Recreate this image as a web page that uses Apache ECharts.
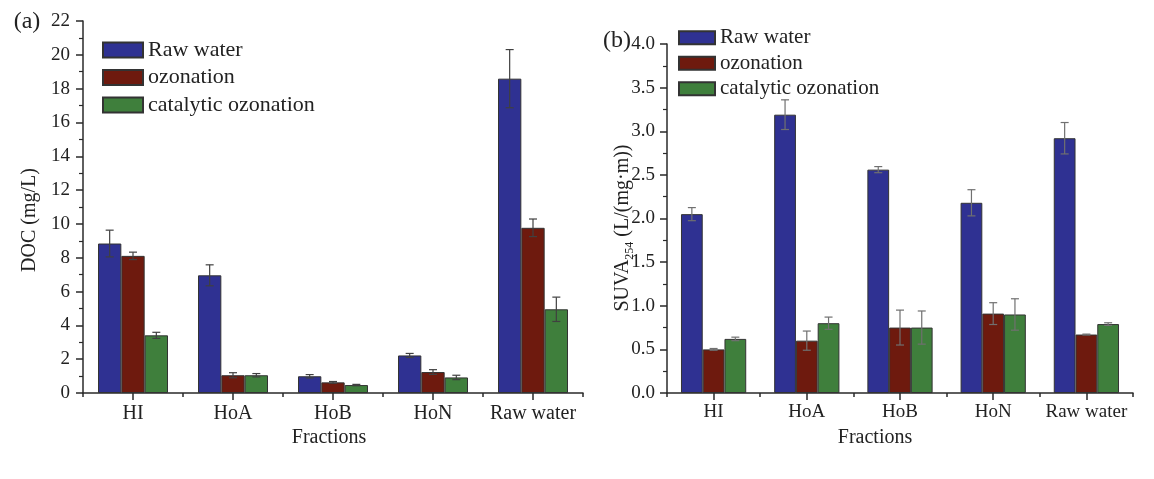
<!DOCTYPE html>
<html>
<head>
<meta charset="utf-8">
<script src="https://cdn.jsdelivr.net/npm/echarts@6/dist/echarts.min.js"></script>
<style>
html,body{margin:0;padding:0;background:#fff;}
#chart{width:1154px;height:479px;}
</style>
</head>
<body>
<div id="chart"></div>
<script>
// ---- data ----
const categories = ['HI', 'HoA', 'HoB', 'HoN', 'Raw water'];
const seriesNames = ['Raw water', 'ozonation', 'catalytic ozonation'];

// (a) DOC (mg/L)
const docRaw    = [8.84, 6.96, 0.99, 2.22, 18.59];
const docRawErr = [0.79, 0.62, 0.10, 0.12, 1.72];
const docOzo    = [8.11, 1.05, 0.63, 1.24, 9.77];
const docOzoErr = [0.22, 0.15, 0.05, 0.14, 0.52];
const docCat    = [3.41, 1.05, 0.47, 0.92, 4.95];
const docCatErr = [0.18, 0.10, 0.04, 0.13, 0.72];

// (b) SUVA254 (L/(mg·m))
const suvaRaw    = [2.05, 3.19, 2.56, 2.18, 2.92];
const suvaRawErr = [0.075, 0.17, 0.035, 0.15, 0.18];
const suvaOzo    = [0.50, 0.60, 0.75, 0.91, 0.67];
const suvaOzoErr = [0.01, 0.11, 0.20, 0.125, 0.005];
const suvaCat    = [0.62, 0.80, 0.75, 0.90, 0.79];
const suvaCatErr = [0.02, 0.07, 0.19, 0.18, 0.015];

// ---- style ----
const FONT = 'Liberation Serif';
const colors = ['#2f3192', '#6e1a0e', '#3f7f3c'];
const axisColor = '#2a2a2a';
const catGap = 0.30;

const chart = echarts.init(document.getElementById('chart'), null, {renderer: 'canvas'});

function errRender(idx, stroke, capHalf) {
  return function (params, api) {
    const c = api.value(0), v = api.value(1), e = api.value(2);
    const band = api.size([1, 0])[0];
    const bw = band * (1 - catGap) / 3;
    const top = api.coord([c, v + e]);
    const bot = api.coord([c, v - e]);
    const x = top[0] + (idx - 1) * bw;
    const st = {stroke: stroke, lineWidth: 1.2};
    return {
      type: 'group',
      children: [
        {type: 'line', shape: {x1: x, y1: top[1], x2: x, y2: bot[1]}, style: st},
        {type: 'line', shape: {x1: x - capHalf, y1: top[1], x2: x + capHalf, y2: top[1]}, style: st},
        {type: 'line', shape: {x1: x - capHalf, y1: bot[1], x2: x + capHalf, y2: bot[1]}, style: st}
      ]
    };
  };
}

function barSeries(name, i, data, axisIdx) {
  return {
    name: name, type: 'bar', xAxisIndex: axisIdx, yAxisIndex: axisIdx / 2,
    data: data, barGap: '0%', barCategoryGap: (catGap * 100) + '%',
    itemStyle: {color: colors[i], borderColor: '#333', borderWidth: 1},
    emphasis: {disabled: true}, z: 2, animation: false
  };
}
function errSeries(i, vals, errs, axisIdx, stroke) {
  return {
    type: 'custom', xAxisIndex: axisIdx, yAxisIndex: axisIdx / 2,
    renderItem: errRender(i, stroke, 4),
    data: vals.map((v, k) => [k, v, errs[k]]),
    encode: {x: 0, y: 1}, z: 5, silent: true, animation: false
  };
}

function xAxes(gridIndex, fontSize, margin) {
  return [
    {
      type: 'category', gridIndex: gridIndex, data: categories, position: 'bottom',
      axisLine: {show: true, lineStyle: {color: axisColor, width: 1.5}},
      axisTick: {show: true, alignWithLabel: true, interval: 0, length: 7, lineStyle: {color: axisColor, width: 1.5}},
      axisLabel: {interval: 0, fontFamily: FONT, fontSize: fontSize, color: '#222', margin: margin},
      splitLine: {show: false}
    },
    {
      type: 'category', gridIndex: gridIndex, data: categories, position: 'bottom', offset: 0,
      axisLine: {show: false},
      axisTick: {show: true, alignWithLabel: false, interval: 0, length: 4, lineStyle: {color: axisColor, width: 1.5}},
      axisLabel: {show: false},
      splitLine: {show: false}
    }
  ];
}

function yAxis(gridIndex, max, interval, fmt, margin) {
  return {
    type: 'value', gridIndex: gridIndex, min: 0, max: max, interval: interval,
    axisLine: {show: true, lineStyle: {color: axisColor, width: 1.5}},
    axisTick: {show: true, length: 7, lineStyle: {color: axisColor, width: 1.5}},
    minorTick: {show: true, splitNumber: 2, length: 4, lineStyle: {color: axisColor, width: 1.2}},
    axisLabel: {fontFamily: FONT, fontSize: 19, color: '#222', margin: margin, formatter: fmt},
    splitLine: {show: false}, minorSplitLine: {show: false}
  };
}

const option = {
  backgroundColor: '#fff',
  animation: false,
  textStyle: {fontFamily: FONT},
  grid: [
    {left: 83, top: 21, width: 500, height: 372, containLabel: false, outerBoundsMode: 'none'},
    {left: 667, top: 44, width: 466, height: 349, containLabel: false, outerBoundsMode: 'none'}
  ],
  xAxis: xAxes(0, 20, 11).concat(xAxes(1, 19, 10)),
  yAxis: [
    yAxis(0, 22, 2, function (v) { return String(v); }, 13),
    yAxis(1, 4, 0.5, function (v) { return v.toFixed(1); }, 12)
  ],
  legend: [
    {
      data: seriesNames, orient: 'vertical', left: 102, top: 39, padding: 0,
      itemWidth: 40, itemHeight: 15, itemGap: 5.5, icon: 'rect',
      textStyle: {fontFamily: FONT, fontSize: 22, color: '#222'},
      selectedMode: false
    },
    {
      data: seriesNames, orient: 'vertical', left: 678, top: 27.2, padding: 0,
      itemWidth: 36, itemHeight: 13, itemGap: 4.5, icon: 'rect',
      textStyle: {fontFamily: FONT, fontSize: 21, color: '#222'},
      selectedMode: false
    }
  ],
  graphic: [
    {type: 'text', x: 27, y: 22, style: {text: '(a)', font: '24px "Liberation Serif"', fill: '#222', textAlign: 'center', textVerticalAlign: 'middle'}},
    {type: 'text', x: 617, y: 41, style: {text: '(b)', font: '24px "Liberation Serif"', fill: '#222', textAlign: 'center', textVerticalAlign: 'middle'}},
    {type: 'text', x: 30, y: 220, rotation: Math.PI / 2, style: {text: 'DOC (mg/L)', font: '20px "Liberation Serif"', fill: '#222', textAlign: 'center', textVerticalAlign: 'middle'}},
    {type: 'text', x: 623, y: 228, rotation: Math.PI / 2, style: {
      text: '{m|SUVA}{s|254}{m| (L/(mg·m))}', textAlign: 'center', textVerticalAlign: 'middle',
      rich: {
        m: {fontFamily: FONT, fontSize: 20, fill: '#222', lineHeight: 26, verticalAlign: 'middle'},
        s: {fontFamily: FONT, fontSize: 12, fill: '#222', lineHeight: 26, verticalAlign: 'bottom'}
      }
    }},
    {type: 'text', x: 329, y: 438, style: {text: 'Fractions', font: '20px "Liberation Serif"', fill: '#222', textAlign: 'center', textVerticalAlign: 'middle'}},
    {type: 'text', x: 875, y: 438, style: {text: 'Fractions', font: '20px "Liberation Serif"', fill: '#222', textAlign: 'center', textVerticalAlign: 'middle'}}
  ],
  series: [
    barSeries(seriesNames[0], 0, docRaw, 0),
    barSeries(seriesNames[1], 1, docOzo, 0),
    barSeries(seriesNames[2], 2, docCat, 0),
    errSeries(0, docRaw, docRawErr, 0, '#404040'),
    errSeries(1, docOzo, docOzoErr, 0, '#404040'),
    errSeries(2, docCat, docCatErr, 0, '#404040'),
    barSeries(seriesNames[0], 0, suvaRaw, 2),
    barSeries(seriesNames[1], 1, suvaOzo, 2),
    barSeries(seriesNames[2], 2, suvaCat, 2),
    errSeries(0, suvaRaw, suvaRawErr, 2, '#707070'),
    errSeries(1, suvaOzo, suvaOzoErr, 2, '#707070'),
    errSeries(2, suvaCat, suvaCatErr, 2, '#707070')
  ]
};
chart.setOption(option);
</script>
</body>
</html>
